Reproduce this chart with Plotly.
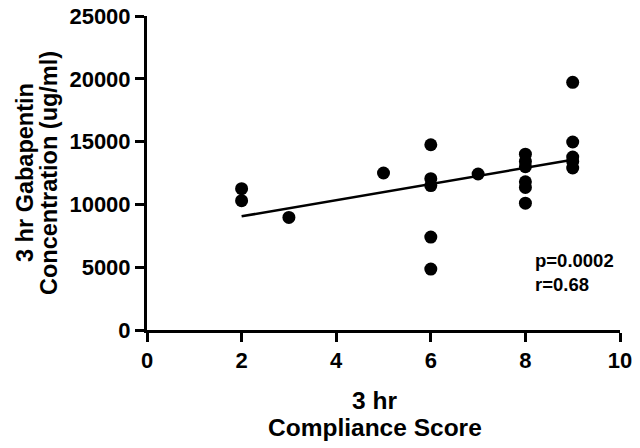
import plotly.graph_objects as go

# compliance score vs 3 hr gabapentin concentration
score = [2, 2, 3, 5, 6, 6, 6, 6, 6, 7,
         8, 8, 8, 8, 8, 8, 9, 9, 9, 9, 9]
conc = [11250, 10300, 8960, 12500, 14750, 12050, 11500, 7400, 4850, 12420,
        14000, 13420, 13000, 11800, 11350, 10100, 19720, 14970, 13770, 13420, 12900]

# regression line ends
fit_x = [2, 9]
fit_y = [9050, 13560]

x_ticks = [0, 2, 4, 6, 8, 10]
y_ticks = [0, 5000, 10000, 15000, 20000, 25000]

font = "Liberation Sans, Arial, sans-serif"

fig = go.Figure()
fig.add_trace(go.Scatter(
    x=fit_x, y=fit_y, mode="lines",
    line=dict(color="black", width=2.5),
    hoverinfo="skip",
))
fig.add_trace(go.Scatter(
    x=score, y=conc, mode="markers",
    marker=dict(color="black", size=13),
))

axis_common = dict(
    showgrid=False, zeroline=False, automargin=False,
    showline=True, linecolor="black", linewidth=3,
    ticks="outside", ticklen=9, tickwidth=3, tickcolor="black",
    ticklabeloverflow="allow",
    tickfont=dict(family=font, size=22, color="black", weight="bold"),
)

fig.update_xaxes(range=[0, 10], tickvals=x_ticks,
                 ticktext=[str(v) for v in x_ticks], **axis_common)
fig.update_yaxes(range=[0, 25000], tickvals=y_ticks,
                 ticktext=[str(v) for v in y_ticks], **axis_common)

title_font = dict(family=font, size=24.5, color="black")

# y axis title, two rotated lines
for text, shift in [("3 hr Gabapentin", -122), ("Concentration (ug/ml)", -98)]:
    fig.add_annotation(
        xref="paper", yref="paper", x=0, y=0.5, xshift=shift,
        xanchor="center", yanchor="middle", textangle=-90, showarrow=False,
        text=f"<b>{text}</b>", font=dict(title_font, size=23.5),
    )

# x axis title, two lines
for text, shift in [("3 hr", -70), ("Compliance Score", -97)]:
    fig.add_annotation(
        xref="paper", yref="paper", x=0.5, y=0, xshift=-9, yshift=shift,
        xanchor="center", yanchor="middle", showarrow=False,
        text=f"<b>{text}</b>", font=title_font,
    )

fig.add_annotation(
    x=8.15, y=4590, xanchor="left", yanchor="middle", showarrow=False, align="left",
    text="<b>p=0.0002<br>r=0.68</b>",
    font=dict(family=font, size=18.5, color="black"),
)

fig.update_layout(
    width=640, height=448,
    paper_bgcolor="white", plot_bgcolor="white",
    showlegend=False,
    margin=dict(l=147, r=20, t=16, b=118),
)

# drop the default page margin so the figure fills the window
fig.write_html(
    "out.html",
    config={"displayModeBar": False},
    post_script="document.body.style.margin='0';",
)
